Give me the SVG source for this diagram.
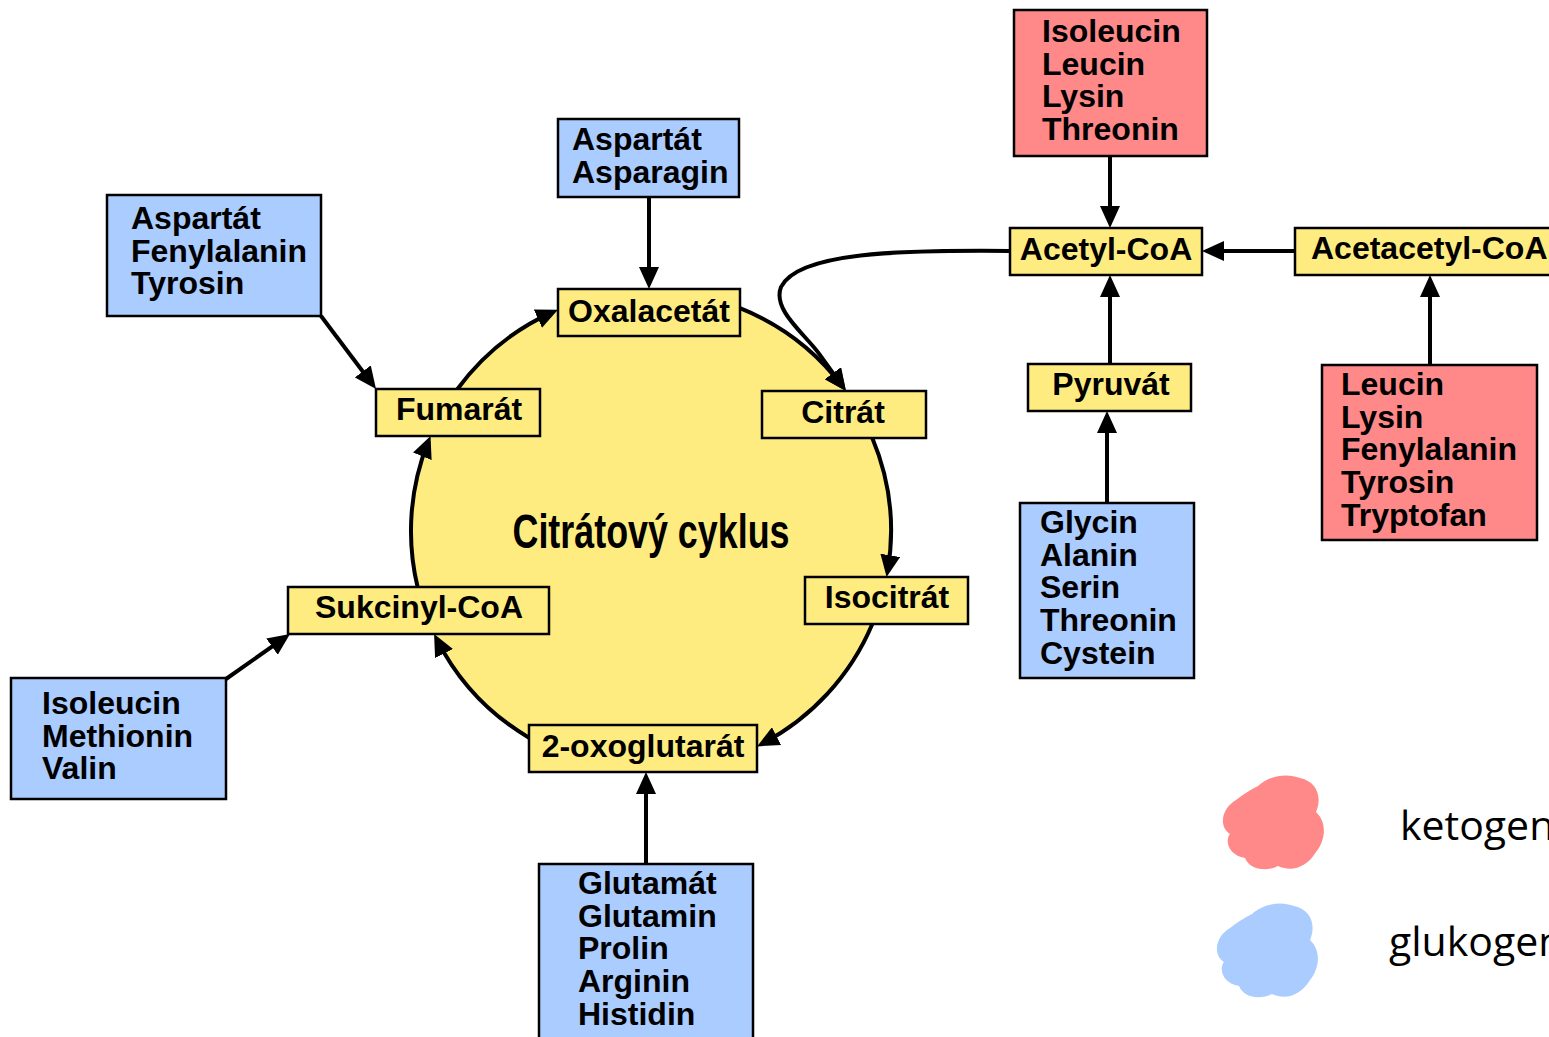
<svg xmlns="http://www.w3.org/2000/svg" width="1549" height="1037" viewBox="0 0 1549 1037">
<style>
.box{stroke:#000;stroke-width:2.5}
.y{fill:#FFEC80}
.b{fill:#AACCFF}
.r{fill:#FF8888}
.t{font-family:"Liberation Sans",Arial,sans-serif;font-weight:bold;font-size:32px;fill:#000}
.c{text-anchor:middle}
.con{fill:none;stroke:#000;stroke-width:4;marker-end:url(#ah)}
.leg{font-family:"Open Sans","Noto Sans",sans-serif;font-size:41px;fill:#000}
</style>
<defs>
<marker id="ah" markerUnits="userSpaceOnUse" markerWidth="22" markerHeight="20" viewBox="0 0 22 20" refX="16" refY="10" orient="auto">
<path d="M0,0 L22,10 L0,20 z" fill="#000"/>
</marker>
</defs>
<rect width="1549" height="1037" fill="#fff"/>
<circle cx="651" cy="531" r="240" fill="#FFEC80"/>
<g id="connectors">
<path class="con" d="M457.5,389 A240,240 0 0 1 552.5,312.1"/>
<path class="con" d="M740,308.1 A240,240 0 0 1 842.4,386.2"/>
<path class="con" d="M872.3,438 A240,240 0 0 1 887.6,571.1"/>
<path class="con" d="M872.3,624 A240,240 0 0 1 762.4,743.6"/>
<path class="con" d="M529,737.7 A240,240 0 0 1 436.8,639.3"/>
<path class="con" d="M417.6,587 A240,240 0 0 1 428.3,441.5"/>
<path class="con" d="M1110,156 L1110,222"/>
<path class="con" d="M1295,251 L1208,251"/>
<path class="con" d="M1110,364 L1110,281"/>
<path class="con" d="M1107,503 L1107,417"/>
<path class="con" d="M1430,365 L1430,281"/>
<path class="con" d="M649,197 L649,283"/>
<path class="con" d="M321,316 L372.4,384.2"/>
<path class="con" d="M226,679 L285.1,637.4"/>
<path class="con" d="M646,864 L646,778"/>
<path class="con" d="M1010,251 C900,250 798,252 781,287 C772,310 805,334 819,353.7 L842.4,386.2"/>
</g>
<g id="oxalacetat"><rect class="box y" x="558" y="289" width="182" height="47"/><text class="t c" x="649" y="322">Oxalacetát</text></g>
<g id="fumarat"><rect class="box y" x="376" y="389" width="164" height="47"/><text class="t c" x="459" y="420">Fumarát</text></g>
<g id="citrat"><rect class="box y" x="762" y="391" width="164" height="47"/><text class="t c" x="843" y="423">Citrát</text></g>
<g id="isocitrat"><rect class="box y" x="805" y="577" width="163" height="47"/><text class="t c" x="887" y="608">Isocitrát</text></g>
<g id="sukcinyl"><rect class="box y" x="288" y="587" width="261" height="47"/><text class="t c" x="419" y="618">Sukcinyl-CoA</text></g>
<g id="oxoglutarat"><rect class="box y" x="529" y="725" width="228" height="47"/><text class="t c" x="643" y="757">2-oxoglutarát</text></g>
<g id="acetylcoa"><rect class="box y" x="1010" y="228" width="192" height="47"/><text class="t c" x="1106" y="260">Acetyl-CoA</text></g>
<g id="acetacetylcoa"><rect class="box y" x="1295" y="228" width="270" height="47"/><text class="t" x="1311" y="259">Acetacetyl-CoA</text></g>
<g id="pyruvat"><rect class="box y" x="1028" y="364" width="163" height="47"/><text class="t c" x="1111" y="395">Pyruvát</text></g>
<g id="ketoA"><rect class="box r" x="1014" y="10" width="193" height="146"/><text class="t" x="1042" y="42">Isoleucin<tspan x="1042" dy="32.7">Leucin</tspan><tspan x="1042" dy="32.7">Lysin</tspan><tspan x="1042" dy="32.7">Threonin</tspan></text></g>
<g id="ketoB"><rect class="box r" x="1322" y="365" width="215" height="175"/><text class="t" x="1341" y="395">Leucin<tspan x="1341" dy="32.7">Lysin</tspan><tspan x="1341" dy="32.7">Fenylalanin</tspan><tspan x="1341" dy="32.7">Tyrosin</tspan><tspan x="1341" dy="32.7">Tryptofan</tspan></text></g>
<g id="glukoA"><rect class="box b" x="558" y="119" width="181" height="78"/><text class="t" x="572" y="150">Aspartát<tspan x="572" dy="32.7">Asparagin</tspan></text></g>
<g id="glukoB"><rect class="box b" x="107" y="195" width="214" height="121"/><text class="t" x="131" y="229">Aspartát<tspan x="131" dy="32.7">Fenylalanin</tspan><tspan x="131" dy="32.7">Tyrosin</tspan></text></g>
<g id="glukoC"><rect class="box b" x="11" y="678" width="215" height="121"/><text class="t" x="42" y="714">Isoleucin<tspan x="42" dy="32.7">Methionin</tspan><tspan x="42" dy="32.7">Valin</tspan></text></g>
<g id="glukoD"><rect class="box b" x="539" y="864" width="214" height="180"/><text class="t" x="578" y="894">Glutamát<tspan x="578" dy="32.7">Glutamin</tspan><tspan x="578" dy="32.7">Prolin</tspan><tspan x="578" dy="32.7">Arginin</tspan><tspan x="578" dy="32.7">Histidin</tspan></text></g>
<g id="glukoE"><rect class="box b" x="1020" y="503" width="174" height="175"/><text class="t" x="1040" y="533">Glycin<tspan x="1040" dy="32.7">Alanin</tspan><tspan x="1040" dy="32.7">Serin</tspan><tspan x="1040" dy="32.7">Threonin</tspan><tspan x="1040" dy="32.7">Cystein</tspan></text></g>
<g id="cycle-label"><text x="651" y="548" text-anchor="middle" textLength="277" lengthAdjust="spacingAndGlyphs" style="font-family:'Liberation Sans Narrow','Liberation Sans',Arial,sans-serif;font-weight:bold;font-size:48px">Citrátový cyklus</text></g>
<g id="legend">
<path fill="#FF8888" d="M1258,786 C1268,777 1285,772 1300,778 C1318,782 1322,798 1316,812 C1327,822 1326,840 1316,852 C1306,868 1292,872 1278,866 C1266,872 1250,870 1245,858 C1230,856 1224,842 1230,834 C1218,826 1222,808 1236,800 C1244,794 1250,790 1258,786 Z"/>
<path fill="#AACCFF" transform="translate(-6,128)" d="M1258,786 C1268,777 1285,772 1300,778 C1318,782 1322,798 1316,812 C1327,822 1326,840 1316,852 C1306,868 1292,872 1278,866 C1266,872 1250,870 1245,858 C1230,856 1224,842 1230,834 C1218,826 1222,808 1236,800 C1244,794 1250,790 1258,786 Z"/>
<text class="leg" x="1400" y="840">ketogen</text>
<text class="leg" x="1389" y="956">glukogen</text>
</g>
</svg>
